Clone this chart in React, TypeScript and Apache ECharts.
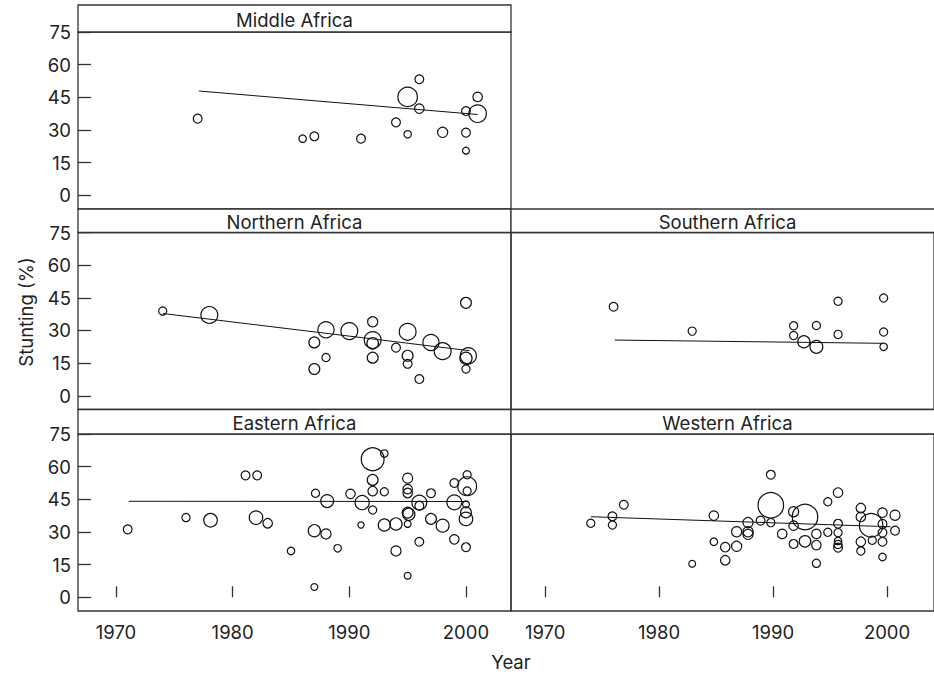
import React, { useEffect, useRef } from "react";
import * as echarts from "echarts";

// ---------- Data ----------
const yearTicks = [1970, 1980, 1990, 2000];
const stuntingTicks = [0, 15, 30, 45, 60, 75];

const middleYears = [1977, 1986, 1987, 1991, 1994, 1995, 1995, 1996, 1996, 1998, 2000, 2000, 2000, 2001, 2001];
const middleStunting = [35.2, 26.0, 27.1, 26.0, 33.5, 45.2, 28.0, 53.3, 39.8, 28.9, 38.7, 28.8, 20.5, 45.2, 37.5];
const middleWeight = [11, 9, 11, 11, 11, 27, 9, 11, 12, 13, 11, 11, 8, 12, 24];
const middleTrendYears = [1977.1, 2001];
const middleTrendValues = [47.9, 37.1];

const northernYears = [1974, 1978, 1988, 1987, 1988, 1987, 1990, 1992, 1992, 1992, 1992, 1994, 1995, 1995, 1995, 1996, 1997, 1998, 2000, 2000.2, 2000, 2000];
const northernStunting = [38.9, 37.1, 30.3, 24.5, 17.6, 12.3, 29.7, 34.0, 25.6, 24.1, 17.5, 22.1, 29.4, 18.4, 14.7, 7.7, 24.5, 20.5, 42.7, 18.4, 17.2, 12.3];
const northernWeight = [10, 23, 22, 14, 10, 14, 23, 13, 23, 15, 14, 11, 23, 14, 11, 11, 22, 23, 14, 22, 16, 10];
const northernTrendYears = [1974, 2000.3];
const northernTrendValues = [37.8, 20.7];

const southernYears = [1976, 1982.9, 1991.8, 1991.8, 1992.7, 1993.8, 1993.8, 1995.7, 1995.7, 1999.7, 1999.7, 1999.7];
const southernStunting = [40.9, 29.7, 32.2, 27.7, 24.8, 32.3, 22.5, 43.4, 28.2, 44.9, 29.3, 22.5];
const southernWeight = [11, 10, 10, 10, 16, 10, 17, 10, 10, 10, 10, 9];
const southernTrendYears = [1976.1, 1999.7];
const southernTrendValues = [25.6, 24.1];

const easternYears = [1971, 1976, 1978.1, 1981.1, 1982.1, 1982, 1983, 1985, 1987.1, 1988.1, 1987, 1988, 1987, 1989, 1990.1, 1991.1, 1991, 1992, 1993, 1992, 1992, 1992, 1993, 1993, 1994, 1994, 1995, 1995, 1995, 1995, 1995.1, 1995, 1995, 1996, 1996, 1996, 1997, 1997, 1998, 1999, 1999, 1999, 2000.1, 2000.1, 2000.1, 2000, 2000, 2000, 2000];
const easternStunting = [31.2, 36.6, 35.4, 56.0, 56.0, 36.6, 34.0, 21.3, 47.8, 44.2, 30.6, 29.1, 4.7, 22.5, 47.5, 43.5, 33.2, 63.4, 66.0, 53.9, 48.8, 40.1, 48.5, 33.2, 33.7, 21.3, 54.7, 49.7, 47.9, 38.9, 38.1, 33.7, 9.9, 43.5, 42.1, 25.5, 47.8, 36.0, 32.9, 43.6, 52.5, 26.6, 51.0, 56.3, 48.8, 42.7, 39.0, 36.0, 23.0];
const easternWeight = [11, 10, 18, 11, 11, 18, 12, 9, 10, 17, 16, 13, 8, 9, 12, 19, 7, 32, 9, 14, 12, 10, 10, 16, 16, 13, 13, 12, 12, 14, 16, 8, 8, 20, 11, 11, 11, 14, 17, 20, 11, 12, 26, 10, 10, 8, 14, 18, 11];
const easternTrendYears = [1971.1, 2000.1];
const easternTrendValues = [44.1, 44.0];

const westernYears = [1974, 1975.9, 1975.9, 1976.9, 1982.9, 1984.8, 1984.8, 1985.8, 1985.8, 1986.8, 1986.8, 1987.8, 1987.8, 1987.8, 1988.9, 1989.8, 1989.8, 1989.8, 1990.8, 1991.8, 1991.8, 1991.8, 1992.8, 1992.8, 1993.8, 1993.8, 1993.8, 1994.8, 1994.8, 1995.7, 1995.7, 1995.7, 1995.7, 1995.7, 1995.7, 1997.7, 1997.7, 1997.7, 1997.7, 1998.6, 1998.7, 1999.6, 1999.6, 1999.6, 1999.6, 1999.6, 2000.7, 2000.7];
const westernStunting = [34.0, 37.2, 33.2, 42.5, 15.4, 37.5, 25.5, 23.0, 17.0, 30.1, 23.4, 34.3, 30.1, 28.9, 35.2, 56.3, 42.3, 34.3, 29.1, 39.3, 32.9, 24.5, 36.9, 25.7, 29.1, 24.0, 15.6, 43.9, 29.9, 48.1, 33.8, 29.7, 25.9, 24.3, 22.8, 41.0, 36.9, 25.5, 21.3, 33.1, 26.2, 38.9, 33.7, 29.7, 25.5, 18.5, 37.7, 30.6];
const westernWeight = [10, 11, 10, 11, 8, 12, 9, 12, 12, 13, 13, 13, 13, 13, 11, 11, 36, 10, 12, 13, 12, 11, 36, 15, 12, 12, 10, 10, 10, 12, 11, 10, 9, 10, 11, 12, 12, 12, 10, 33, 10, 12, 11, 11, 11, 9, 13, 11];
const westernTrendYears = [1974, 2000.3];
const westernTrendValues = [37.0, 32.4];

// ---------- Layout ----------
const FONT = "Inter";
const FONT_SIZE = 18.5;
const TEXT_COLOR = "#222";
const LINE_COLOR = "#333";
const COL_LEFT = [78, 511];
const PANEL_W = 433;
const X_MIN = [1966.74, 1967.0];
const X_MAX = [1966.74 + 433 / 11.665, 1967.0 + 433 / 11.665];
const ROW_TOP = [32, 232.5, 434];
const STRIP_TOP = [5, 209, 409.5];
const PANEL_H = 177;
const Y_MIN = -6.3;
const Y_MAX = 75;

const panels = [
  { title: "Middle Africa", row: 0, col: 0, years: middleYears, values: middleStunting, weights: middleWeight, ty: middleTrendYears, tv: middleTrendValues },
  { title: "Northern Africa", row: 1, col: 0, years: northernYears, values: northernStunting, weights: northernWeight, ty: northernTrendYears, tv: northernTrendValues },
  { title: "Southern Africa", row: 1, col: 1, years: southernYears, values: southernStunting, weights: southernWeight, ty: southernTrendYears, tv: southernTrendValues },
  { title: "Eastern Africa", row: 2, col: 0, years: easternYears, values: easternStunting, weights: easternWeight, ty: easternTrendYears, tv: easternTrendValues },
  { title: "Western Africa", row: 2, col: 1, years: westernYears, values: westernStunting, weights: westernWeight, ty: westernTrendYears, tv: westernTrendValues },
];

export default function App() {
  const ref = useRef<HTMLDivElement>(null);

  useEffect(() => {
    if (!ref.current) return;
    const chart = echarts.init(ref.current, null, { renderer: "svg" });

    const grid = panels.map((p) => ({
      left: COL_LEFT[p.col],
      top: ROW_TOP[p.row],
      width: PANEL_W,
      height: PANEL_H,
      show: true,
      borderColor: LINE_COLOR,
      borderWidth: 1.3,
      backgroundColor: "rgba(0,0,0,0)",
    }));

    const xAxis = panels.map((p, i) => ({
      type: "value",
      gridIndex: i,
      min: X_MIN[p.col],
      max: X_MAX[p.col],
      axisLine: { show: false },
      splitLine: { show: false },
      axisTick: {
        show: p.row === 2,
        inside: true,
        length: 11,
        customValues: yearTicks,
        lineStyle: { color: LINE_COLOR, width: 1.3 },
      },
      axisLabel: {
        show: p.row === 2,
        customValues: yearTicks,
        margin: 11,
        fontFamily: FONT,
        fontSize: FONT_SIZE,
        color: TEXT_COLOR,
        formatter: (v: number) => String(Math.round(v)),
      },
    }));

    const yAxis = panels.map((p, i) => ({
      type: "value",
      gridIndex: i,
      min: Y_MIN,
      max: Y_MAX,
      axisLine: { show: false },
      splitLine: { show: false },
      axisTick: {
        show: p.col === 0,
        inside: true,
        length: 13,
        customValues: stuntingTicks,
        lineStyle: { color: LINE_COLOR, width: 1.3 },
      },
      axisLabel: {
        show: p.col === 0,
        customValues: stuntingTicks,
        margin: 7,
        fontFamily: FONT,
        fontSize: FONT_SIZE,
        color: TEXT_COLOR,
      },
    }));

    const series: any[] = [];
    panels.forEach((p, i) => {
      series.push({
        type: "scatter",
        xAxisIndex: i,
        yAxisIndex: i,
        symbol: "circle",
        symbolSize: (d: number[]) => (d[2] * 2) / 3 + 1.5,
        itemStyle: { color: "rgba(0,0,0,0)", borderColor: "#111", borderWidth: 1.2, opacity: 1 },
        data: p.years.map((y, j) => [y, p.values[j], p.weights[j]]),
        z: 3,
      });
      series.push({
        type: "line",
        xAxisIndex: i,
        yAxisIndex: i,
        showSymbol: false,
        symbol: "none",
        lineStyle: { color: "#111", width: 1 },
        data: p.ty.map((y, j) => [y, p.tv[j]]),
        z: 2,
      });
    });

    const graphic: any[] = [];
    panels.forEach((p) => {
      const top = STRIP_TOP[p.row];
      const h = ROW_TOP[p.row] - top;
      graphic.push({
        type: "rect",
        shape: { x: COL_LEFT[p.col], y: top, width: PANEL_W, height: h },
        style: { fill: "#fff", stroke: LINE_COLOR, lineWidth: 1.3 },
        z: 1,
      });
      graphic.push({
        type: "text",
        x: COL_LEFT[p.col] + PANEL_W / 2,
        y: top + h / 2 + 1,
        style: {
          text: p.title,
          font: `${FONT_SIZE}px ${FONT}`,
          fill: TEXT_COLOR,
          textAlign: "center",
          textVerticalAlign: "middle",
        },
        z: 2,
      });
    });
    graphic.push({
      type: "text",
      x: 26,
      y: 312,
      rotation: Math.PI / 2,
      style: {
        text: "Stunting (%)",
        font: `${FONT_SIZE}px ${FONT}`,
        fill: TEXT_COLOR,
        textAlign: "center",
        textVerticalAlign: "middle",
      },
    });
    graphic.push({
      type: "text",
      x: 511,
      y: 662,
      style: {
        text: "Year",
        font: `${FONT_SIZE}px ${FONT}`,
        fill: TEXT_COLOR,
        textAlign: "center",
        textVerticalAlign: "middle",
      },
    });

    chart.setOption({
      animation: false,
      backgroundColor: "#fff",
      grid,
      xAxis,
      yAxis,
      series,
      graphic,
    });

    return () => chart.dispose();
  }, []);

  return (
    <div
      ref={ref}
      style={{ position: "fixed", left: 0, top: 0, width: 934, height: 674, background: "#fff" }}
    />
  );
}
